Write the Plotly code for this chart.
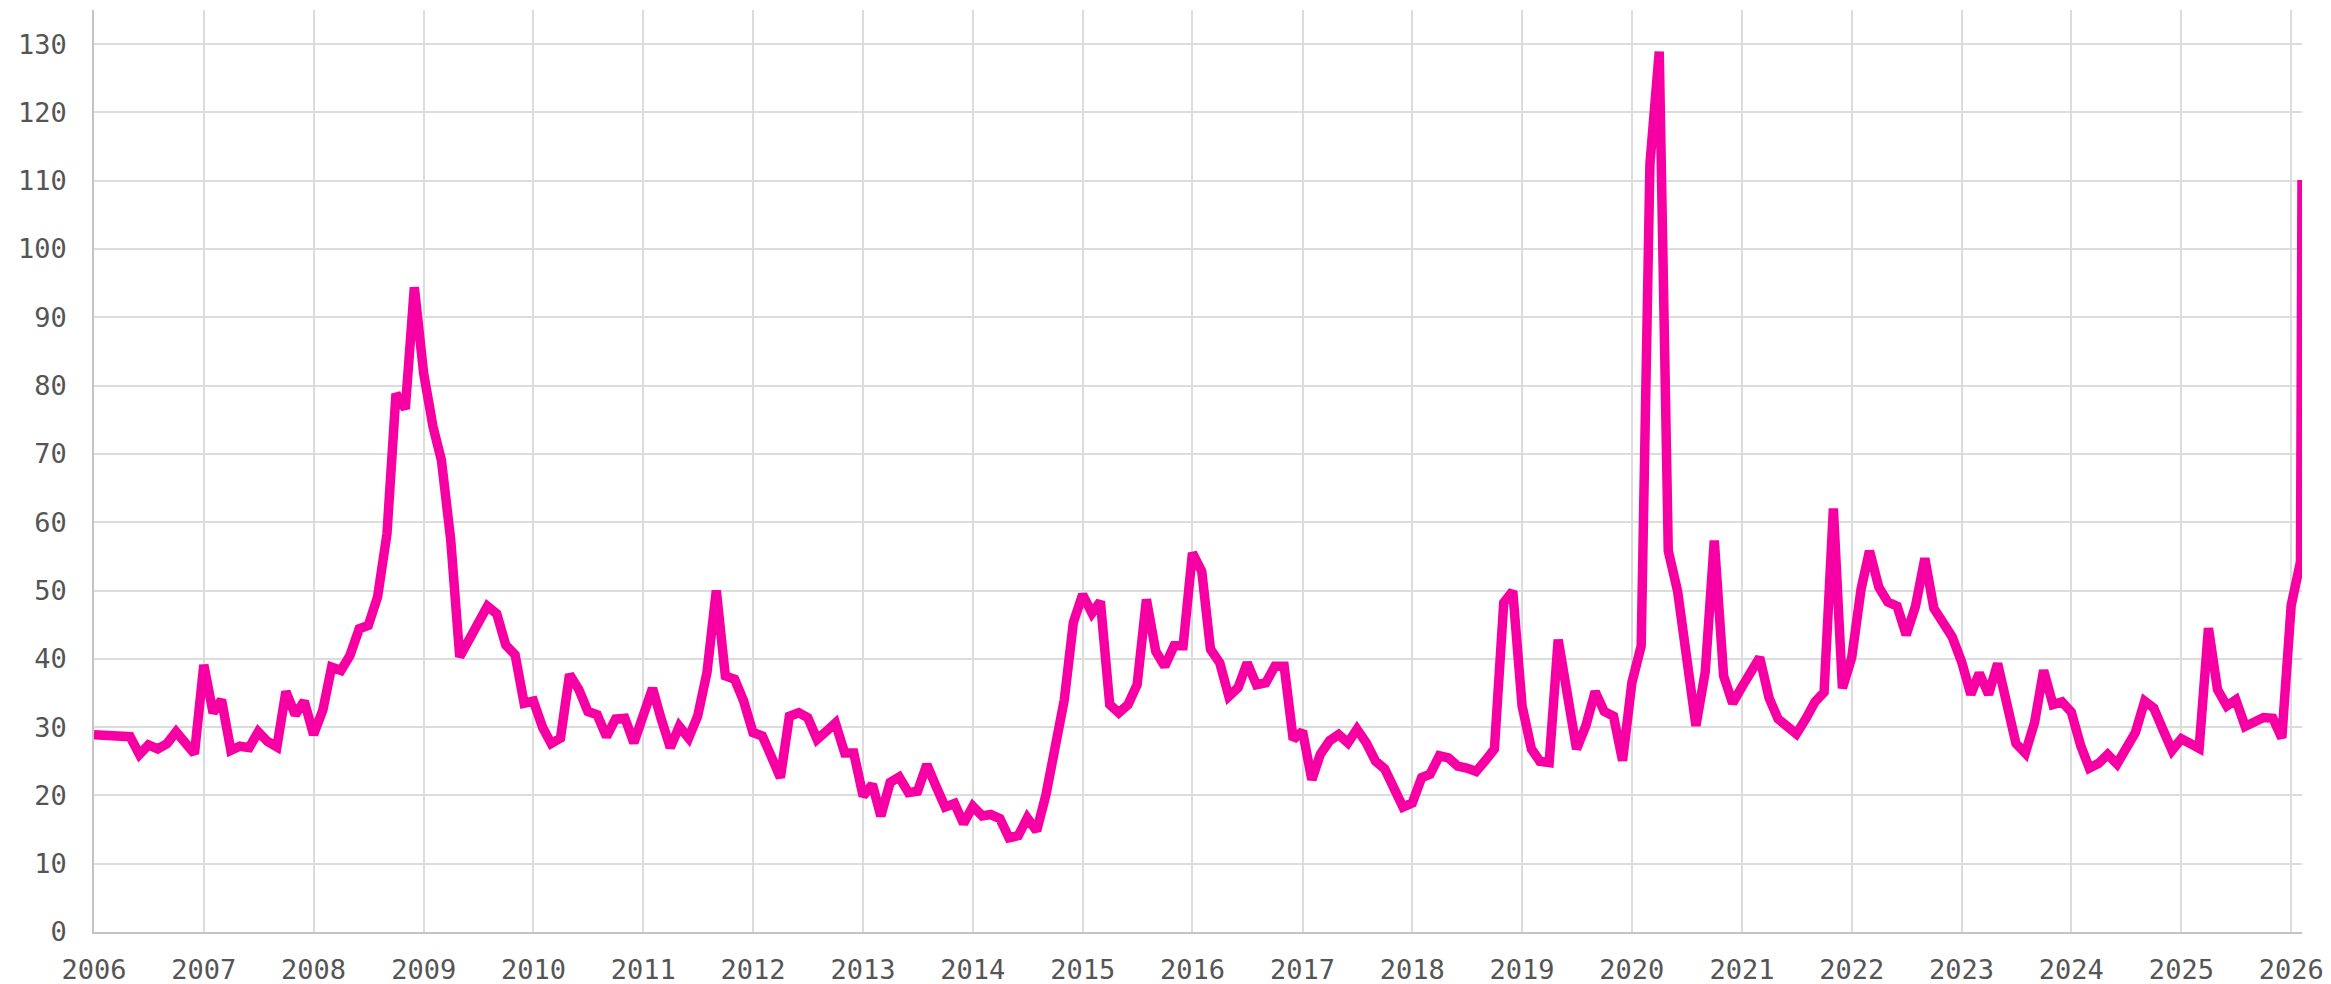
import pandas as pd
import plotly.graph_objects as go

# monthly values, Jan..Dec per year
y2006 = [28.9, 28.9, 28.9, 28.6, 28.6, 26.0, 27.4, 26.8, 27.6, 29.3, 27.6, 26.1]
y2007 = [39.1, 32.1, 34.0, 26.6, 27.2, 27.0, 29.3, 27.9, 27.1, 35.2, 31.8, 33.8]
y2008 = [28.9, 32.5, 38.8, 38.3, 40.5, 44.4, 44.9, 49.1, 58.3, 78.8, 76.6, 94.4]
y2009 = [81.8, 74.0, 69.1, 57.4, 40.3, 43.2, 45.2, 47.7, 46.6, 42.0, 40.6, 33.5]
y2010 = [33.8, 29.9, 27.6, 28.4, 37.7, 35.5, 32.3, 31.8, 28.6, 31.2, 31.3, 27.7]
y2011 = [31.6, 35.7, 31.3, 27.0, 30.1, 28.4, 31.6, 38.0, 50.0, 37.5, 37.0, 33.8]
y2012 = [29.2, 28.7, 25.8, 22.6, 31.6, 32.1, 31.4, 28.2, 29.4, 30.6, 26.2, 26.2]
y2013 = [19.9, 21.6, 17.0, 21.9, 22.7, 20.4, 20.6, 24.5, 21.3, 18.3, 18.8, 15.9]
y2014 = [18.4, 17.0, 17.2, 16.6, 13.8, 14.1, 16.7, 14.8, 20.1, 27.2, 34.0, 45.3]
y2015 = [49.4, 46.7, 48.4, 33.3, 32.1, 33.3, 36.2, 48.7, 41.1, 38.9, 41.9, 41.9]
y2016 = [55.5, 52.8, 41.4, 39.4, 34.5, 35.8, 39.4, 36.2, 36.5, 38.9, 38.9, 28.2]
y2017 = [29.4, 22.3, 26.0, 28.0, 28.9, 27.7, 29.7, 27.7, 25.0, 23.9, 20.9, 18.3]
y2018 = [18.9, 22.6, 23.1, 25.8, 25.5, 24.3, 24.0, 23.5, 25.1, 26.8, 48.2, 49.9]
y2019 = [33.1, 26.8, 25.0, 24.8, 42.8, 33.5, 26.8, 30.2, 35.2, 32.3, 31.6, 25.1]
y2020 = [36.5, 41.9, 112.4, 128.9, 55.8, 49.9, 39.0, 30.2, 38.1, 57.3, 37.5, 33.5]
y2021 = [35.9, 37.9, 40.2, 34.3, 31.2, 30.1, 29.0, 31.2, 33.7, 35.1, 62.0, 35.7]
y2022 = [40.2, 50.2, 55.8, 50.5, 48.3, 47.7, 43.5, 47.7, 54.7, 47.4, 45.5, 43.2]
y2023 = [39.6, 34.8, 37.9, 34.8, 39.3, 33.7, 27.6, 26.2, 30.7, 38.3, 33.3, 33.7]
y2024 = [32.2, 27.3, 24.0, 24.7, 26.0, 24.6, 26.9, 29.2, 33.8, 32.8, 29.6, 26.6]
y2025 = [28.3, 27.5, 26.9, 44.5, 35.5, 33.1, 34.0, 30.1, 30.8, 31.4, 31.3, 28.4]
y2026 = [47.8, 54.2]

# latest (partial-month) reading at the right edge
latest_date = "2026-02-06"
latest_value = 110.1

year_ticks = [str(y) for y in range(2006, 2027)]
y_ticks = list(range(0, 131, 10))

monthly = (y2006 + y2007 + y2008 + y2009 + y2010 + y2011 + y2012 + y2013 + y2014 +
           y2015 + y2016 + y2017 + y2018 + y2019 + y2020 + y2021 + y2022 + y2023 +
           y2024 + y2025 + y2026)
dates = list(pd.date_range("2006-01-01", periods=len(monthly), freq="MS"))
dates.append(pd.Timestamp(latest_date))
values = monthly + [latest_value]

fig = go.Figure()
fig.add_trace(go.Scatter(
    x=dates,
    y=values,
    mode="lines",
    line=dict(color="#f700a3", width=9.5),
    hoverinfo="x+y",
))

tick_font = dict(family="DejaVu Sans Mono", size=27, color="#555555")

fig.update_xaxes(
    range=[dates[0], dates[-1]],
    tickvals=[pd.Timestamp(f"{y}-01-01") for y in year_ticks],
    ticktext=year_ticks,
    showgrid=True,
    gridcolor="#dcdcdc",
    gridwidth=1.6,
    showline=True,
    linecolor="#c4c4c4",
    linewidth=1.6,
    zeroline=False,
    ticks="",
    ticklabelstandoff=13,
    tickfont=tick_font,
    automargin=False,
)
fig.update_yaxes(
    range=[0, 135],
    tickvals=y_ticks,
    showgrid=True,
    gridcolor="#dcdcdc",
    gridwidth=1.6,
    showline=True,
    linecolor="#c4c4c4",
    linewidth=1.6,
    zeroline=False,
    ticks="",
    ticklabelstandoff=20,
    tickfont=tick_font,
    automargin=False,
)
fig.update_layout(
    width=2331,
    height=984,
    margin=dict(l=94, r=29, t=10, b=52),
    paper_bgcolor="white",
    plot_bgcolor="white",
    showlegend=False,
)
# drop the default page margin so the fixed-size figure fills the window
fig.write_html(
    "out.html",
    config={"displayModeBar": False},
    post_script="document.body.style.margin='0';",
)
